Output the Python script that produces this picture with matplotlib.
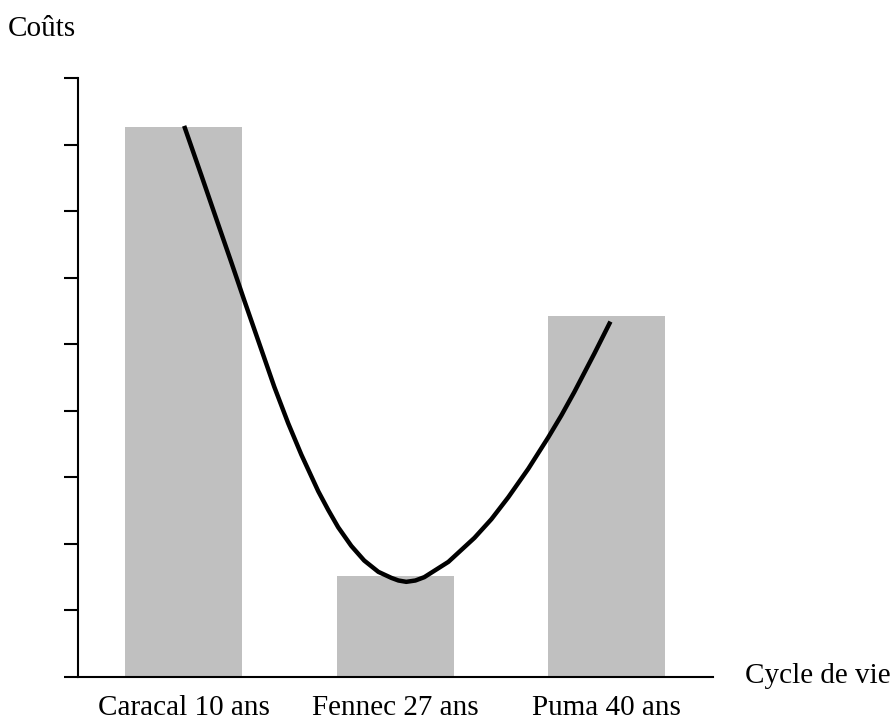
import matplotlib
matplotlib.use("Agg")
import matplotlib.pyplot as plt

plt.rcParams['font.family'] = ['Liberation Serif', 'DejaVu Serif']

categories = ["Caracal 10 ans", "Fennec 27 ans", "Puma 40 ans"]
costs = [8.27, 1.52, 5.42]

# courbe (position en categories, cout)
curve_x = [0.002, 0.083, 0.163, 0.225, 0.286, 0.357, 0.428, 0.494, 0.556,
           0.636, 0.683, 0.730, 0.792, 0.853, 0.920, 0.981, 1.015, 1.052,
           1.095, 1.137, 1.251, 1.374, 1.454, 1.534, 1.629, 1.723, 1.785,
           1.846, 1.941, 2.017]
curve_y = [8.28, 7.54, 6.80, 6.23, 5.66, 5.01, 4.36, 3.81, 3.34,
           2.79, 2.51, 2.25, 1.97, 1.75, 1.58, 1.49, 1.45, 1.43,
           1.45, 1.50, 1.73, 2.09, 2.37, 2.70, 3.13, 3.60, 3.93,
           4.28, 4.86, 5.34]

fig = plt.figure(figsize=(8.93, 7.2), dpi=100)
ax = fig.add_axes([0.0873, 0.0597, 0.7107, 0.832])

x = list(range(len(categories)))
ax.bar(x, costs, width=0.553, color='#c0c0c0', zorder=1)
ax.plot(curve_x, curve_y, color='black', linewidth=3.2, zorder=2,
        solid_joinstyle='round', solid_capstyle='butt')

ax.set_xlim(-0.5, 2.5)
ax.set_ylim(0, 9)
ax.set_yticks(range(10))
ax.set_yticklabels([])
ax.set_xticks(x)
ax.set_xticklabels(categories, fontsize=21)
ax.tick_params(axis='x', length=0, pad=13)
ax.tick_params(axis='y', length=10, width=1.5, direction='out')

for s in ['top', 'right']:
    ax.spines[s].set_visible(False)
for s in ['left', 'bottom']:
    ax.spines[s].set_linewidth(1.5)

fig.text(0.009, 0.95, "Coûts", fontsize=21, va='baseline', ha='left')
fig.text(0.834, 0.0514, "Cycle de vie", fontsize=21, va='baseline', ha='left')

plt.savefig("out.png")
